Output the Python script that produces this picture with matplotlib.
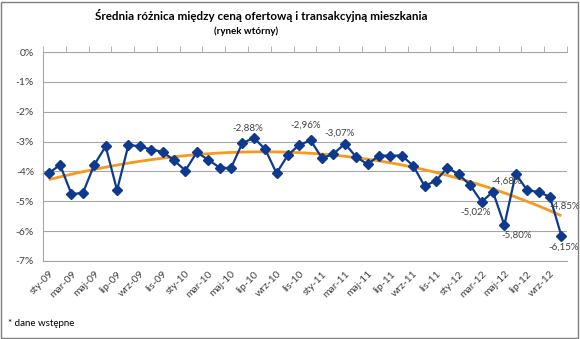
import numpy as np
import matplotlib
matplotlib.use("Agg")
import matplotlib.pyplot as plt
from matplotlib.patches import Rectangle
from matplotlib.ticker import FuncFormatter

plt.rcParams['font.family'] = ['Lato', 'DejaVu Sans']

# Monthly categories, Jan 2009 - Oct 2012
months = ['sty', 'lut', 'mar', 'kwi', 'maj', 'cze', 'lip', 'sie', 'wrz', 'paź', 'lis', 'gru']
years = ['09', '10', '11', '12']
categories = [f"{m}-{y}" for y in years for m in months][:46]

# Average gap between asking and transaction price (%)
values = [-4.06, -3.78, -4.76, -4.72, -3.78, -3.16, -4.63, -3.11, -3.16, -3.27,
          -3.34, -3.63, -3.97, -3.36, -3.61, -3.87, -3.89, -3.05, -2.88, -3.25,
          -4.06, -3.45, -3.11, -2.96, -3.56, -3.41, -3.07, -3.52, -3.76, -3.47,
          -3.47, -3.47, -3.81, -4.49, -4.31, -3.87, -4.10, -4.46, -5.02, -4.68,
          -5.80, -4.08, -4.63, -4.69, -4.85, -6.15]

# Points with value labels and label offsets (pixels)
labeled = [18, 23, 26, 38, 39, 40, 44, 45]
label_offsets = [(-6, 10), (-5, 15), (-5, 10), (-6, -10), (14, 11), (12, -10), (15, -9), (2, -12)]

title = "Średnia różnica między ceną ofertową i transakcyjną mieszkania"
subtitle = "(rynek wtórny)"
footnote = "* dane wstępne"

fig = plt.figure(figsize=(5.8, 3.39), dpi=100)
ax = fig.add_axes([43 / 580, 1 - 261 / 339, (567 - 43) / 580, (261 - 52) / 339])

x = np.arange(len(values))
y = np.array(values)

grid_c = '#A6A6A6'
blue = '#0D3A8E'
orange = '#F59A1E'

# Polynomial trend line
coef = np.polyfit(x, y, 3)
xt = np.linspace(0, len(values) - 1, 200)
ax.plot(xt, np.polyval(coef, xt), color=orange, lw=2.0, zorder=2, solid_capstyle='butt')

ax.plot(x, y, color=blue, lw=1.6, marker='D', markersize=5.5, zorder=3)

for i, (dx, dy) in zip(labeled, label_offsets):
    ax.annotate(f"{values[i]:.2f}%".replace('.', ','), (x[i], y[i]),
                xytext=(dx, dy), textcoords='offset pixels',
                ha='center', va='center', fontsize=7, color='#404040', zorder=4)

ax.set_xlim(-0.5, len(values) - 0.5)
ax.set_ylim(-7, 0)
ax.set_yticks(np.arange(-7, 0.5, 1))
ax.yaxis.set_major_formatter(FuncFormatter(lambda v, p: f"{int(round(v))}%".replace('−', '-')))
ax.grid(axis='y', color=grid_c, lw=0.8)
ax.set_axisbelow(True)

ax.set_xticks(x[::2])
ax.set_xticklabels(categories[::2], rotation=45, ha='right', rotation_mode='anchor')
ax.set_xticks(np.arange(-0.5, len(values), 2), minor=True)
ax.tick_params(axis='x', which='major', length=0, pad=6, labelsize=7.5, colors='#404040')
ax.tick_params(axis='x', which='minor', top=True, bottom=False, length=4, direction='out',
               color=grid_c)
ax.tick_params(axis='y', length=0, labelsize=7.5, colors='#404040', pad=6.5)

ax.spines['right'].set_visible(False)
for s in ['top', 'bottom', 'left']:
    ax.spines[s].set_color(grid_c)
    ax.spines[s].set_linewidth(0.8)

fig.text(261 / 580, 1 - 15 / 339, title, ha='center', va='center', fontsize=8.4,
         fontweight='bold', color='#000000')
fig.text(246 / 580, 1 - 31 / 339, subtitle, ha='center', va='center', fontsize=7,
         fontweight='bold', color='#000000')
fig.text(8 / 580, 1 - 323 / 339, footnote, ha='left', va='center', fontsize=7, color='#000000')

fig.patches.append(Rectangle((1 / 580, 1 / 339), 577 / 580, 336 / 339, transform=fig.transFigure,
                             fill=False, edgecolor='#7F7F7F', lw=1))

fig.savefig('out.png', dpi=100)
